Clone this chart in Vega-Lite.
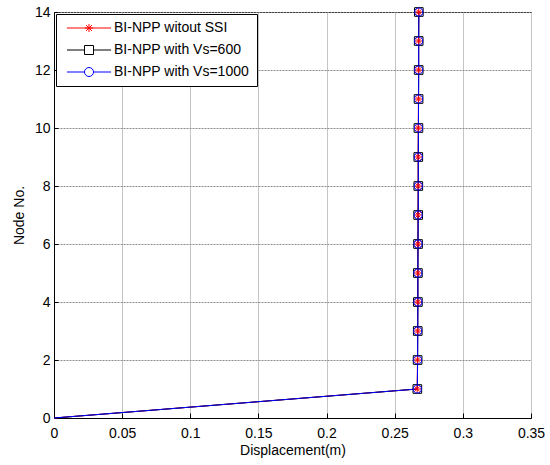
{
  "$schema": "https://vega.github.io/schema/vega-lite/v6.json",
  "width": 477,
  "height": 406,
  "autosize": {"type": "none"},
  "padding": {"left": 54, "top": 12, "right": 19, "bottom": 47},
  "background": "white",
  "config": {"font": "Liberation Sans", "view": {"stroke": "black", "strokeWidth": 1}},
  "data": {"values": [
    {"series": "BI-NPP witout SSI", "node": 0, "disp": 0},
    {"series": "BI-NPP witout SSI", "node": 1, "disp": 0.2665},
    {"series": "BI-NPP witout SSI", "node": 2, "disp": 0.2667},
    {"series": "BI-NPP witout SSI", "node": 3, "disp": 0.2668},
    {"series": "BI-NPP witout SSI", "node": 4, "disp": 0.2669},
    {"series": "BI-NPP witout SSI", "node": 5, "disp": 0.2669},
    {"series": "BI-NPP witout SSI", "node": 6, "disp": 0.2670},
    {"series": "BI-NPP witout SSI", "node": 7, "disp": 0.2671},
    {"series": "BI-NPP witout SSI", "node": 8, "disp": 0.2672},
    {"series": "BI-NPP witout SSI", "node": 9, "disp": 0.2672},
    {"series": "BI-NPP witout SSI", "node": 10, "disp": 0.2673},
    {"series": "BI-NPP witout SSI", "node": 11, "disp": 0.2674},
    {"series": "BI-NPP witout SSI", "node": 12, "disp": 0.2675},
    {"series": "BI-NPP witout SSI", "node": 13, "disp": 0.2675},
    {"series": "BI-NPP witout SSI", "node": 14, "disp": 0.2676},
    {"series": "BI-NPP with Vs=600", "node": 0, "disp": 0},
    {"series": "BI-NPP with Vs=600", "node": 1, "disp": 0.2666},
    {"series": "BI-NPP with Vs=600", "node": 2, "disp": 0.2668},
    {"series": "BI-NPP with Vs=600", "node": 3, "disp": 0.2669},
    {"series": "BI-NPP with Vs=600", "node": 4, "disp": 0.2670},
    {"series": "BI-NPP with Vs=600", "node": 5, "disp": 0.2670},
    {"series": "BI-NPP with Vs=600", "node": 6, "disp": 0.2671},
    {"series": "BI-NPP with Vs=600", "node": 7, "disp": 0.2672},
    {"series": "BI-NPP with Vs=600", "node": 8, "disp": 0.2673},
    {"series": "BI-NPP with Vs=600", "node": 9, "disp": 0.2673},
    {"series": "BI-NPP with Vs=600", "node": 10, "disp": 0.2674},
    {"series": "BI-NPP with Vs=600", "node": 11, "disp": 0.2675},
    {"series": "BI-NPP with Vs=600", "node": 12, "disp": 0.2676},
    {"series": "BI-NPP with Vs=600", "node": 13, "disp": 0.2676},
    {"series": "BI-NPP with Vs=600", "node": 14, "disp": 0.2677},
    {"series": "BI-NPP with Vs=1000", "node": 0, "disp": 0},
    {"series": "BI-NPP with Vs=1000", "node": 1, "disp": 0.2666},
    {"series": "BI-NPP with Vs=1000", "node": 2, "disp": 0.2668},
    {"series": "BI-NPP with Vs=1000", "node": 3, "disp": 0.2669},
    {"series": "BI-NPP with Vs=1000", "node": 4, "disp": 0.2670},
    {"series": "BI-NPP with Vs=1000", "node": 5, "disp": 0.2670},
    {"series": "BI-NPP with Vs=1000", "node": 6, "disp": 0.2671},
    {"series": "BI-NPP with Vs=1000", "node": 7, "disp": 0.2672},
    {"series": "BI-NPP with Vs=1000", "node": 8, "disp": 0.2673},
    {"series": "BI-NPP with Vs=1000", "node": 9, "disp": 0.2673},
    {"series": "BI-NPP with Vs=1000", "node": 10, "disp": 0.2674},
    {"series": "BI-NPP with Vs=1000", "node": 11, "disp": 0.2675},
    {"series": "BI-NPP with Vs=1000", "node": 12, "disp": 0.2676},
    {"series": "BI-NPP with Vs=1000", "node": 13, "disp": 0.2676},
    {"series": "BI-NPP with Vs=1000", "node": 14, "disp": 0.2677}
  ]},
  "encoding": {
    "x": {
      "field": "disp", "type": "quantitative",
      "scale": {"domain": [0, 0.35], "nice": false, "zero": false},
      "axis": {
        "values": [0, 0.05, 0.1, 0.15, 0.2, 0.25, 0.3, 0.35],
        "format": "~g",
        "title": "Displacement(m)",
        "titleFontSize": 14, "titleFontWeight": "normal", "titleColor": "black", "titlePadding": 3,
        "labelFontSize": 14, "labelColor": "black", "labelPadding": 13,
        "tickSize": -5, "tickColor": "black", "domainColor": "black",
        "labelFlush": false,
        "gridColor": "#c4c4c4", "gridWidth": 1
      }
    },
    "y": {
      "field": "node", "type": "quantitative",
      "scale": {"domain": [0, 14], "nice": false, "zero": false},
      "axis": {
        "values": [0, 2, 4, 6, 8, 10, 12, 14],
        "title": "Node No.",
        "titleFontSize": 14, "titleFontWeight": "normal", "titleColor": "black", "titlePadding": 8,
        "labelFontSize": 14, "labelColor": "black", "labelPadding": 8,
        "tickSize": -4, "tickColor": "black", "domainColor": "black",
        "labelFlush": false,
        "gridColor": "#8c8c8c", "gridDash": [2, 1], "gridWidth": 1
      }
    }
  },
  "layer": [
    {
      "mark": {"type": "line", "strokeWidth": 1},
      "encoding": {
        "color": {
          "field": "series", "type": "nominal",
          "scale": {"domain": ["BI-NPP witout SSI", "BI-NPP with Vs=600", "BI-NPP with Vs=1000"], "range": ["#ff0000", "#000000", "#0000ff"]},
          "legend": {
            "orient": "top-left", "offset": 2, "title": null,
            "strokeColor": "black", "fillColor": "white", "padding": 7,
            "labelFontSize": 14, "labelFont": "Liberation Sans", "labelColor": "black", "labelLimit": 300,
            "symbolSize": 81, "symbolOffset": 19, "labelOffset": 18, "rowPadding": 8, "symbolOpacity": 1,
            "encoding": {
              "symbols": {
                "shape": {"value": {"expr": "datum.value === 'BI-NPP witout SSI' ? 'M-4.9,0L4.9,0M-0.65,-0.65L0.65,0.65M-0.65,0.65L0.65,-0.65M0,-0.9L0,0.9M-0.9,0L0.9,0' : datum.value === 'BI-NPP with Vs=600' ? 'M-4.9,0L-1,0M1,0L4.9,0M-1,-1L1,-1L1,1L-1,1Z' : 'M-4.9,0L-1,0A1,1 0 1,1 1,0A1,1 0 1,1 -1,0M1,0L4.9,0'"}},
                "fill": {"value": "transparent"},
                "strokeWidth": {"value": 1},
                "opacity": {"value": 1},
                "size": {"value": 81}
              }
            }
          }
        },
        "order": {"field": "node"}
      }
    },
    {
      "transform": [{"filter": {"and": [{"field": "series", "equal": "BI-NPP witout SSI"}, {"field": "node", "gte": 1}]}}],
      "mark": {"type": "point", "filled": false, "strokeWidth": 1, "size": 60, "opacity": 1, "color": "#ff0000", "shape": "M-1,0L1,0M0,-1L0,1M-0.7,-0.7L0.7,0.7M-0.7,0.7L0.7,-0.7"}
    },
    {
      "transform": [{"filter": {"and": [{"field": "series", "equal": "BI-NPP with Vs=600"}, {"field": "node", "gte": 1}]}}],
      "mark": {"type": "point", "filled": false, "strokeWidth": 1, "size": 75, "opacity": 1, "color": "#000000", "shape": "square"}
    },
    {
      "transform": [{"filter": {"and": [{"field": "series", "equal": "BI-NPP with Vs=1000"}, {"field": "node", "gte": 1}]}}],
      "mark": {"type": "point", "filled": false, "strokeWidth": 1, "size": 65, "opacity": 1, "color": "#0000ff", "shape": "circle"}
    }
  ]
}
